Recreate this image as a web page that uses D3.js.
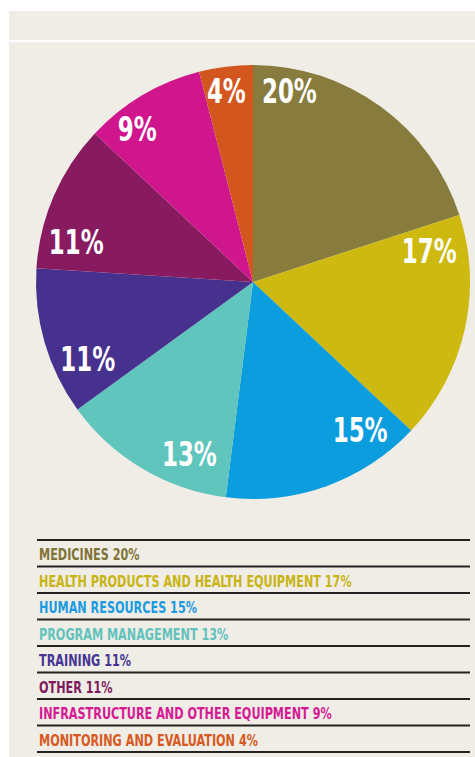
<!DOCTYPE html>
<html>
<head>
<meta charset="utf-8">
<script src="https://cdn.jsdelivr.net/npm/d3@7"></script>
<style>
  html, body { margin: 0; padding: 0; background: #ffffff; }
  svg { display: block; }
  text { font-family: "Liberation Sans Narrow", "DejaVu Sans Condensed", "Arial Narrow", sans-serif; }
</style>
</head>
<body>
<svg id="chart" width="475" height="757"></svg>
<script>
// Spending breakdown, percent of total
const categories = [
  "MEDICINES",
  "HEALTH PRODUCTS AND HEALTH EQUIPMENT",
  "HUMAN RESOURCES",
  "PROGRAM MANAGEMENT",
  "TRAINING",
  "OTHER",
  "INFRASTRUCTURE AND OTHER EQUIPMENT",
  "MONITORING AND EVALUATION"
];
const shares = [20, 17, 15, 13, 11, 11, 9, 4];
const sliceColors = ["#877b3d", "#cdb90f", "#0b9ddd", "#5fc5bd", "#47318f", "#881a5f", "#d0168c", "#d3561f"];
const legendColors = ["#7f7436", "#c8b414", "#1b9be2", "#62c3bc", "#463594", "#7d1c5c", "#d51a93", "#d65a22"];

// Where each value label sits: fraction of the way through its slice, and radius as share of the pie radius
const labelAngleFrac = [0.15, 0.13, 0.20, 0.28, 0.28, 0.23, 0.30, 0.45];
const labelRadiusFrac = [0.895, 0.825, 0.84, 0.845, 0.84, 0.835, 0.885, 0.89];

const svg = d3.select("#chart");
const W = 475, H = 757;
const condense = 0.75;      // horizontal squeeze for the condensed display type

// Panel background
svg.append("rect").attr("x", 9).attr("y", 11).attr("width", W - 9).attr("height", H - 11).attr("fill", "#f0ede7");
svg.append("rect").attr("x", 9).attr("y", 40).attr("width", W - 9).attr("height", 2).attr("fill", "#ffffff");

// Pie
const cx = 253, cy = 282, R = 217;
const pie = d3.pie().value(d => d).sort(null);
const arcs = pie(shares);
const arc = d3.arc().innerRadius(0).outerRadius(R);

const g = svg.append("g").attr("transform", `translate(${cx},${cy})`);
g.selectAll("path.slice")
  .data(arcs)
  .join("path")
  .attr("class", "slice")
  .attr("d", arc)
  .attr("fill", (d, i) => sliceColors[i]);

g.selectAll("text.val")
  .data(arcs)
  .join("text")
  .attr("class", "val")
  .attr("transform", (d, i) => {
    const a = d.startAngle + (d.endAngle - d.startAngle) * labelAngleFrac[i];
    const r = R * labelRadiusFrac[i];
    return `translate(${r * Math.sin(a)},${-r * Math.cos(a)}) scale(${condense},1)`;
  })
  .attr("text-anchor", "middle")
  .attr("dy", "0.36em")
  .attr("fill", "#ffffff")
  .attr("font-size", 34)
  .attr("font-weight", "bold")
  .text(d => d.value + "%");

// Legend
const legendTop = 540, rowH = 26.5, legX0 = 37, legX1 = 470;
const rows = d3.range(categories.length);
const yRow = d3.scaleLinear().domain([0, 1]).range([legendTop, legendTop + rowH]);

const leg = svg.append("g");
leg.selectAll("line")
  .data(d3.range(categories.length + 1))
  .join("line")
  .attr("x1", legX0).attr("x2", legX1)
  .attr("y1", i => yRow(i)).attr("y2", i => yRow(i))
  .attr("stroke", "#222222")
  .attr("stroke-width", 2);

leg.selectAll("text")
  .data(rows)
  .join("text")
  .attr("transform", i => `translate(39,${yRow(i) + 20}) scale(0.78,1)`)
  .attr("fill", i => legendColors[i])
  .attr("font-size", 16)
  .attr("font-weight", "bold")
  .text(i => `${categories[i]} ${shares[i]}%`);
</script>
</body>
</html>
